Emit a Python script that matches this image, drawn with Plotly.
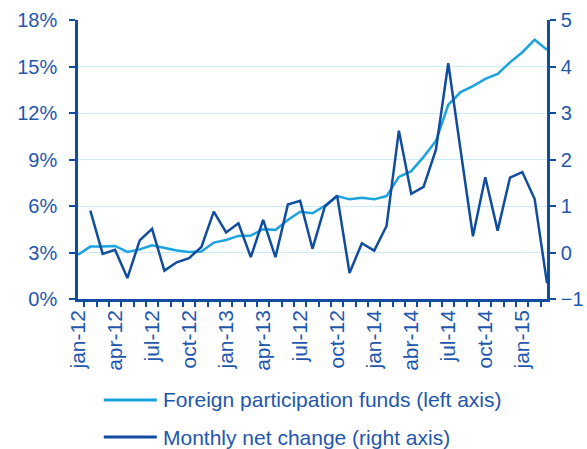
import plotly.graph_objects as go

months = [f'{y}-{m:02d}' for y in (2012, 2013, 2014, 2015) for m in range(1, 13)][:39]

tick_labels = ['jan-12', 'apr-12', 'jul-12', 'oct-12', 'jan-13', 'apr-13', 'jul-12',
               'oct-12', 'jan-14', 'abr-14', 'jul-14', 'oct-14', 'jan-15']

# share of foreign participation funds, % (left axis)
foreign_funds = [2.85, 3.38, 3.38, 3.42, 3.04, 3.2, 3.47, 3.28, 3.13, 3.03,
                 3.06, 3.64, 3.81, 4.07, 4.09, 4.5, 4.46, 5.1, 5.63, 5.53,
                 6.02, 6.64, 6.43, 6.53, 6.43, 6.64, 7.88, 8.25, 9.17, 10.2,
                 12.53, 13.35, 13.73, 14.2, 14.52, 15.27, 15.92, 16.73, 16.07]

# monthly net change (right axis)
net_change = [None, 0.90, -0.03, 0.06, -0.55, 0.26, 0.51, -0.39, -0.21, -0.12,
              0.12, 0.88, 0.43, 0.63, -0.10, 0.70, -0.10, 1.03, 1.11, 0.08,
              0.99, 1.22, -0.44, 0.20, 0.04, 0.57, 2.62, 1.26, 1.41, 2.21,
              4.07, 2.2, 0.35, 1.62, 0.47, 1.61, 1.73, 1.15, -0.66]

LIGHT = '#1aa3e0'
DARK = '#104d9e'
TEXT = '#1f57ad'
GRID = '#cdeaf8'
FONT = 'Arial, Liberation Sans, sans-serif'

ticktext = []
k = 0
for i in range(len(months)):
    if i % 3 == 0:
        ticktext.append(tick_labels[k])
        k += 1
    else:
        ticktext.append('')

fig = go.Figure()

fig.add_trace(go.Scatter(
    x=months, y=foreign_funds, mode='lines',
    line=dict(color=LIGHT, width=2.5),
    name='Foreign participation funds (left axis)',
    showlegend=False
))

fig.add_trace(go.Scatter(
    x=months, y=net_change, mode='lines', yaxis='y2',
    line=dict(color=DARK, width=2.5),
    name='Monthly net change (right axis)',
    showlegend=False
))

axis_common = dict(
    showline=True, linecolor=DARK, linewidth=2.5,
    ticks='outside', ticklen=6, tickwidth=2, tickcolor=DARK,
    tickfont=dict(size=20, color=TEXT, family=FONT),
    zeroline=False, automargin=False,
)

fig.update_layout(
    width=587, height=449,
    margin=dict(l=78, r=40, t=20, b=150),
    plot_bgcolor='white', paper_bgcolor='white',
    font=dict(family=FONT, color=TEXT),
    xaxis=dict(
        type='category', tickson='boundaries',
        tickvals=months, ticktext=ticktext, tickangle=-90,
        showline=True, linecolor=DARK, linewidth=2.5,
        ticks='outside', ticklen=5, tickwidth=2, tickcolor=DARK,
        tickfont=dict(size=21, color=TEXT, family=FONT),
        showgrid=False, automargin=False,
    ),
    yaxis=dict(range=[0, 18], dtick=3, ticksuffix='%',
               showgrid=True, gridcolor=GRID, gridwidth=1,
               ticklabelstandoff=8, **axis_common),
    yaxis2=dict(range=[-1, 5], dtick=1, overlaying='y', side='right',
                showgrid=False, ticklabelstandoff=1, **axis_common),
    showlegend=False,
)

# legend drawn below the plot
legend_rows = [(-0.362, LIGHT, 'Foreign participation funds (left axis)'),
               (-0.495, DARK, 'Monthly net change (right axis)')]
for y, color, label in legend_rows:
    fig.add_shape(type='line', xref='paper', yref='paper',
                  x0=0.055, x1=0.168, y0=y, y1=y,
                  line=dict(color=color, width=3))
    fig.add_annotation(xref='paper', yref='paper', x=0.177, y=y,
                       text=label, showarrow=False, xanchor='left', yanchor='middle',
                       font=dict(size=21, color=TEXT, family=FONT))

fig.write_html('out.html', config={'displayModeBar': False},
               post_script="document.body.style.margin='0';")
